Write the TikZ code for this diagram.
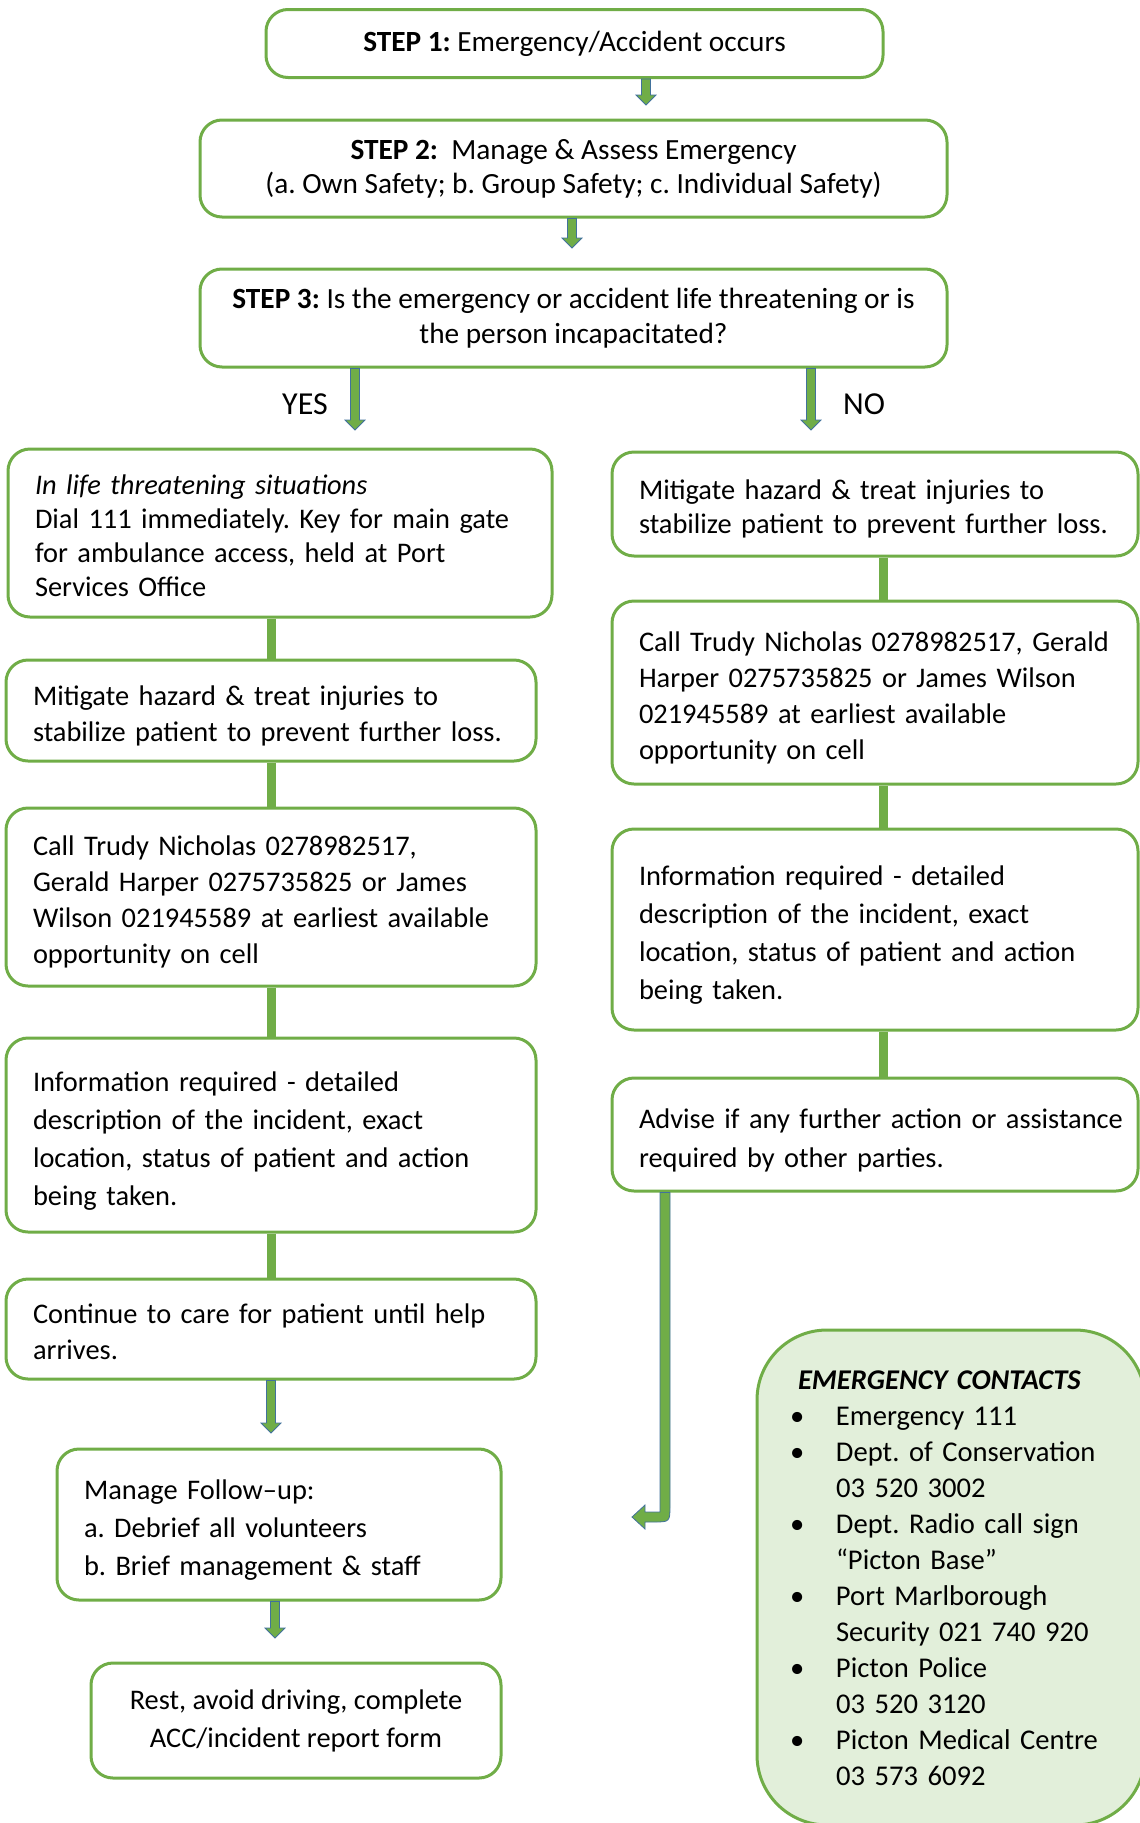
\documentclass[tikz,border=0pt]{standalone}
\usepackage{fontspec}
\setmainfont{Carlito}
\usetikzlibrary{calc}
\frenchspacing

\definecolor{flowgreen}{HTML}{70AD47}
\definecolor{arrowblue}{HTML}{41719C}
\definecolor{contactfill}{HTML}{E2EFDA}

% left-aligned lines that never wrap, set a little lower in their box
\newcommand{\boxlines}[1]{\raisebox{0pt}[\dimexpr\height+11pt\relax][\depth]{\begin{tabular}{@{}l@{}}#1\end{tabular}}}
% block arrow pointing down, from (#1) to the tip (#2)
\newcommand{\downblock}[2]{%
  \filldraw[blkarrow] let \p1=(#1), \p2=(#2) in
    (\x1-4.5pt,\y1) -- (\x1-4.5pt,\y2+10pt) -- (\x1-10pt,\y2+10pt) -- (\x1,\y2)
    -- (\x1+10pt,\y2+10pt) -- (\x1+4.5pt,\y2+10pt) -- (\x1+4.5pt,\y1) -- cycle;}

\begin{document}
\begin{tikzpicture}[
  x=1pt, y=-1pt,
  flowbox/.style={draw=flowgreen, line width=3pt, rounded corners=22pt, fill=white,
    inner xsep=27pt, inner ysep=0pt, align=left, font=\fontsize{28.4}{36}\selectfont},
  stepbox/.style={flowbox, align=center},
  linegap/.style={font=\fontsize{28.4}{#1}\selectfont},
  steptext/.style={font=\fontsize{29.3}{#1}\selectfont},
  link/.style={draw=flowgreen, line width=9pt},
  blkarrow/.style={fill=flowgreen, draw=arrowblue, line width=0.8pt},
]
\useasboundingbox (0,0) rectangle (1140,1823);

% steps
\node[stepbox, steptext=36, minimum width=617pt, minimum height=68pt] (s1) at (574.5,43.5)
  {\textbf{STEP 1:} Emergency/Accident occurs};
\node[stepbox, steptext=34, minimum width=747pt, minimum height=97pt] (s2) at (573.5,168.5)
  {\textbf{STEP 2:}\ \ Manage \& Assess Emergency\\(a. Own Safety; b. Group Safety; c. Individual Safety)};
\node[stepbox, steptext=35, minimum width=747pt, minimum height=98pt] (s3) at (573.5,318)
  {\textbf{STEP 3:} Is the emergency or accident life threatening or is\\the person incapacitated?};

\node[font=\fontsize{32}{36}\selectfont] (yes) at (305,404) {YES};
\node[font=\fontsize{32}{36}\selectfont] (no) at (864,404) {NO};

% yes branch
\node[flowbox, linegap=34, text width=490pt, minimum height=168pt] (L1) at (280,533)
  {\boxlines{\textit{In life threatening situations}\\Dial 111 immediately. Key for main gate\\for ambulance access, held at Port\\Services Office}};
\node[flowbox, text width=476pt, minimum height=101pt] (L2) at (271,710.5)
  {\boxlines{Mitigate hazard \& treat injuries to\\stabilize patient to prevent further loss.}};
\node[flowbox, text width=476pt, minimum height=178pt] (L3) at (271,897)
  {\boxlines{Call Trudy Nicholas 0278982517,\\Gerald Harper 0275735825 or James\\Wilson 021945589 at earliest available\\opportunity on cell}};
\node[flowbox, linegap=38, text width=476pt, minimum height=194pt] (L4) at (271,1135)
  {\boxlines{Information required - detailed\\description of the incident, exact\\location, status of patient and action\\being taken.}};
\node[flowbox, text width=476pt, minimum height=100pt] (L5) at (271,1329)
  {\boxlines{Continue to care for patient until help\\arrives.}};
\node[flowbox, linegap=38, text width=390pt, minimum height=151pt] (L6) at (279,1524.5)
  {\boxlines{Manage Follow–up:\\a. Debrief all volunteers\\b. Brief management \& staff}};
\node[stepbox, linegap=38, minimum width=410pt, minimum height=115pt] (L7) at (296,1720.5)
  {Rest, avoid driving, complete\\ACC/incident report form};

% no branch
\node[flowbox, linegap=34, text width=472pt, minimum height=104pt] (R1) at (875,504)
  {\boxlines{Mitigate hazard \& treat injuries to\\stabilize patient to prevent further loss.}};
\node[flowbox, text width=472pt, minimum height=183pt] (R2) at (875,692.5)
  {\boxlines{Call Trudy Nicholas 0278982517, Gerald\\Harper 0275735825 or James Wilson\\021945589 at earliest available\\opportunity on cell}};
\node[flowbox, linegap=38, text width=472pt, minimum height=201pt] (R3) at (875,929.5)
  {\boxlines{Information required - detailed\\description of the incident, exact\\location, status of patient and action\\being taken.}};
\node[flowbox, linegap=39, text width=472pt, minimum height=113pt] (R4) at (875,1134.5)
  {\boxlines{Advise if any further action or assistance\\required by other parties.}};

% contacts
\node[flowbox, fill=contactfill, rounded corners=70pt, inner xsep=33pt, text width=322pt,
  minimum height=495pt, font=\fontsize{28.6}{36}\selectfont] (contacts) at (951,1577.5)
  {\raisebox{0pt}[\dimexpr\height+6pt\relax][\depth]{\begin{tabular}{@{}p{46pt}@{}l@{}}
   \multicolumn{2}{@{\hspace{8pt}}l@{}}{\textbf{\textit{EMERGENCY CONTACTS}}}\\
   \textbullet & Emergency 111\\
   \textbullet & Dept. of Conservation\\
               & 03 520 3002\\
   \textbullet & Dept. Radio call sign\\
               & “Picton Base”\\
   \textbullet & Port Marlborough\\
               & Security 021 740 920\\
   \textbullet & Picton Police\\
               & 03 520 3120\\
   \textbullet & Picton Medical Centre\\
               & 03 573 6092
   \end{tabular}}};

% connectors
\draw[link] (L1.south -| L2.north) -- (L2.north);
\draw[link] (L2.south) -- (L3.north);
\draw[link] (L3.south) -- (L4.north);
\draw[link] (L4.south) -- (L5.north);
\draw[link] ([xshift=8pt]R1.south) -- ([xshift=8pt]R2.north);
\draw[link] ([xshift=8pt]R2.south) -- ([xshift=8pt]R3.north);
\draw[link] ([xshift=8pt]R3.south) -- ([xshift=8pt]R4.north);

% arrows
\coordinate (a1) at (646,105);
\coordinate (a2) at (572,248);
\coordinate (yestip) at (355,430);
\coordinate (notip) at (811,430);
\coordinate (a5) at (271,1433);
\coordinate (a6) at (275,1638);
\coordinate (bendtip) at (632,1517);
\downblock{s1.south -| a1}{a1}
\downblock{s2.south -| a2}{a2}
\downblock{s3.south -| yestip}{yestip}
\downblock{s3.south -| notip}{notip}
\downblock{L5.south -| a5}{a5}
\downblock{L6.south -| a6}{a6}
\filldraw[blkarrow] let \p1=([xshift=-210pt]R4.south), \p2=(bendtip) in
  (\x1-5pt,\y1) -- (\x1+5pt,\y1) -- (\x1+5pt,\y2+12pt)
  .. controls (\x1+5pt,\y2-5pt) .. (\x1-12pt,\y2-5pt)
  -- (\x2+13pt,\y2-5pt) -- (\x2+13pt,\y2-12pt) -- (\x2,\y2) -- (\x2+13pt,\y2+12pt)
  -- (\x2+13pt,\y2+5pt) -- (\x1-5pt,\y2+5pt) -- cycle;
\end{tikzpicture}
\end{document}
